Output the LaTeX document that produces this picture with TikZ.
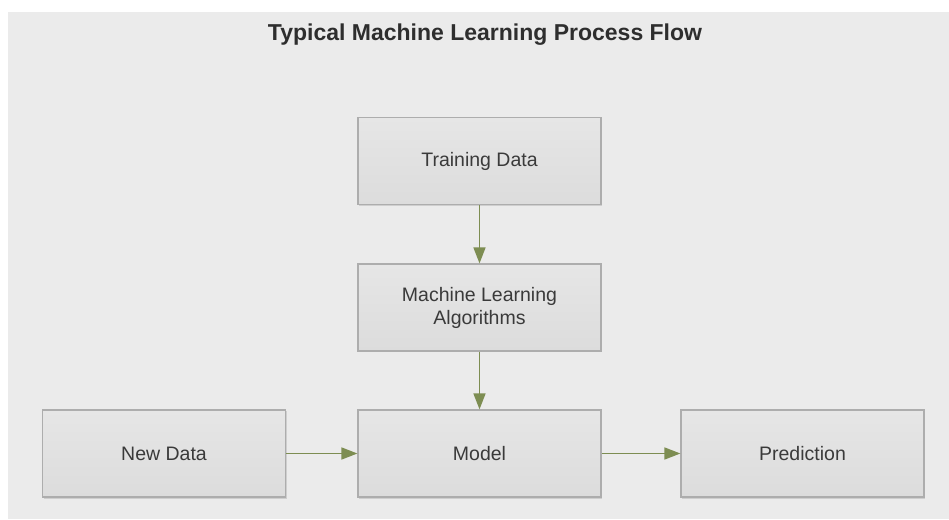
\documentclass[tikz,border=0pt]{standalone}
\usepackage{fontspec}
\setmainfont{Liberation Sans}
\usetikzlibrary{arrows.meta,shadows}
\definecolor{panel}{HTML}{EBEBEB}
\definecolor{boxtop}{HTML}{E6E6E6}
\definecolor{boxbot}{HTML}{DCDCDC}
\definecolor{boxline}{HTML}{ADADAD}
\definecolor{flow}{HTML}{7D8D52}
\definecolor{ink}{HTML}{3A3A3A}
\begin{document}
\begin{tikzpicture}[x=1pt,y=1pt,
  stage/.style={draw=boxline, line width=1.2pt, top color=boxtop, bottom color=boxbot,
    minimum width=243pt, minimum height=87pt, inner sep=0pt,
    align=center, text=ink, font=\fontsize{19.5}{23}\selectfont,
    drop shadow={shadow xshift=1pt, shadow yshift=-1.5pt, fill=black!30, opacity=0.5}},
  flowarrow/.style={draw=flow, line width=1.6pt, -{Triangle[length=16pt,width=12pt]}}]
  % page and panel
  \fill[white] (0,0) rectangle (949,519);
  \fill[panel] (8,0) rectangle (949,507);
  \useasboundingbox (0,0) rectangle (949,519);

  % title
  \node[font=\bfseries\fontsize{23}{27}\selectfont, text=black!82] (title) at (485,484)
    {Typical Machine Learning Process Flow};

  % process stages
  \node[stage] (train) at (479.5,358) {Training Data};
  \node[stage] (algo)  at (479.5,211.5) {Machine Learning\\Algorithms};
  \node[stage] (model) at (479.5,65.5) {Model};
  \node[stage] (new)   at (164,65.5) {New Data};
  \node[stage] (pred)  at (802.5,65.5) {Prediction};

  % flow between stages
  \draw[flowarrow] (train) -- (algo);
  \draw[flowarrow] (algo) -- (model);
  \draw[flowarrow] (new) -- (model);
  \draw[flowarrow] (model) -- (pred);
\end{tikzpicture}
\end{document}
